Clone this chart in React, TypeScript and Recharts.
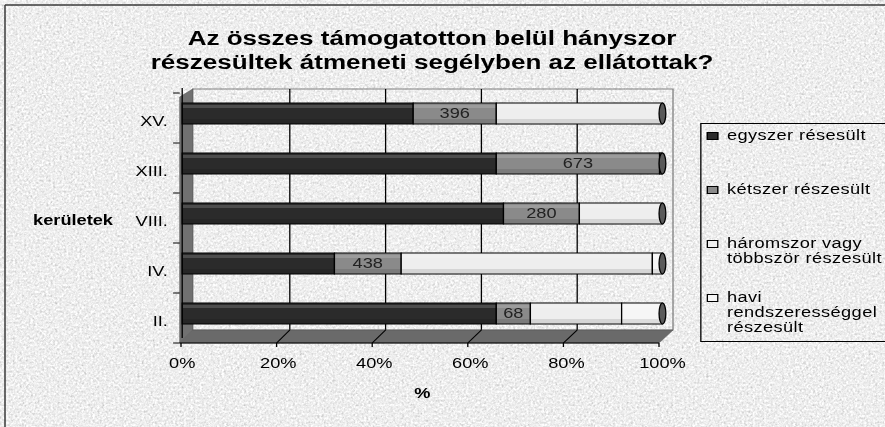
import React from 'react';
import { BarChart, Bar, XAxis, YAxis, Legend, LabelList } from 'recharts';

// ---- data (top to bottom) ----
const districts = ['XV.', 'XIII.', 'VIII.', 'IV.', 'II.'];
const egyszer = [48.1, 65.4, 66.9, 31.7, 65.4];
const ketszer = [17.3, 34.0, 15.8, 13.9, 7.1];
const haromszor = [34.6, 0.3, 17.3, 52.3, 19.0];
const havi = [0, 0.3, 0, 2.1, 8.5];
const ketszerCounts = [396, 673, 280, 438, 68];
const xTicks = [0, 20, 40, 60, 80, 100];

const seriesKeys = ['s1', 's2', 's3', 's4'];
const seriesNames = [
  'egyszer résesült',
  'kétszer részesült',
  'háromszor vagy többször részesült',
  'havi rendszerességgel részesült',
];
const seriesColors = ['#2b2b2b', '#8a8a8a', '#eeeeee', '#f6f6f6'];

const tableData = districts.map((name, i) => ({
  name,
  s1: egyszer[i],
  s2: ketszer[i],
  s3: haromszor[i],
  s4: havi[i],
  cnt: ketszerCounts[i],
}));

// ---- layout ----
const OUT_W = 885;
const H = 427;
const IN_W = 680;
const S = OUT_W / IN_W;
const FONT = '"Liberation Sans", Arial, sans-serif';

const FRONT0 = 181 / S;
const FRONT1 = 659 / S;
const BACK0 = 194 / S;
const BACK1 = 673 / S;
const frontX = (v: number) => FRONT0 + ((FRONT1 - FRONT0) * v) / 100;
const backX = (v: number) => BACK0 + ((BACK1 - BACK0) * v) / 100;

const BarShape = (props: any) => {
  const { x, y, width, height, fill, background } = props;
  if (!(width > 0)) return null;
  const end = background ? background.x + background.width : null;
  const isEnd = end != null && Math.abs(x + width - end) < 0.6;
  return (
    <g>
      <rect x={x} y={y} width={width} height={height} fill={fill} stroke="#000" strokeWidth={1} />
      <rect x={x + 0.5} y={y + 2} width={Math.max(0, width - 1)} height={3} fill="#fff" opacity={0.16} />
      <rect x={x + 0.5} y={y + height - 5} width={Math.max(0, width - 1)} height={4.5} fill="#000" opacity={0.1} />
      {isEnd && (
        <ellipse cx={x + width} cy={y + height / 2} rx={2.6} ry={height / 2} fill="#5a5a5a" stroke="#000" strokeWidth={1} />
      )}
    </g>
  );
};

const YTick = (props: any) => {
  const { x, y, payload } = props;
  return (
    <text x={x} y={y + 8} textAnchor="end" dominantBaseline="central" fontFamily={FONT} fontSize={14} fill="#000">
      {payload.value}
    </text>
  );
};

const YLabel = (props: any) => {
  const vb = props.viewBox || { x: 0, y: 88, width: 140, height: 250 };
  return (
    <text x={vb.x + 25.4} y={vb.y + vb.height / 2 + 7} dominantBaseline="central" fontFamily={FONT} fontSize={14} fontWeight="bold" fill="#000">
      kerületek
    </text>
  );
};

const XLabel = (props: any) => {
  const vb = props.viewBox || { x: 140, y: 338, width: 369, height: 30 };
  return (
    <text x={vb.x + vb.width / 2} y={vb.y + vb.height + 25} textAnchor="middle" dominantBaseline="central" fontFamily={FONT} fontSize={14} fontWeight="bold" fill="#000">
      %
    </text>
  );
};

const renderLegend = (props: any) => {
  const payload = [...(props.payload || [])].sort(
    (a: any, b: any) => seriesKeys.indexOf(a.dataKey) - seriesKeys.indexOf(b.dataKey)
  );
  return (
    <div
      style={{
        border: '1px solid #000',
        width: 170,
        height: 219,
        boxSizing: 'border-box',
        padding: '4px 0 0 4.4px',
        fontFamily: FONT,
        fontSize: 14,
        lineHeight: '15px',
        color: '#000',
      }}
    >
      {payload.map((p: any, i: number) => {
        const idx = seriesKeys.indexOf(p.dataKey);
        return (
          <div key={i} style={{ display: 'flex', alignItems: 'flex-start', height: i < 3 ? 54 : 'auto' }}>
            <span
              style={{
                width: 9,
                height: 8,
                border: '1px solid #000',
                background: seriesColors[idx >= 0 ? idx : i],
                boxSizing: 'border-box',
                marginTop: 3.5,
                marginRight: 6.4,
                flex: '0 0 auto',
              }}
            />
            <span style={{ width: 135, letterSpacing: '0.3px' }}>{p.value}</span>
          </div>
        );
      })}
    </div>
  );
};

export default function App() {
  return (
    <div style={{ position: 'absolute', left: 0, top: 0, width: OUT_W, height: H, overflow: 'hidden', background: '#d8d8d8' }}>
      <svg width={OUT_W} height={H} style={{ position: 'absolute', left: 0, top: 0 }}>
        <defs>
          <filter id="noise" x="0" y="0" width="100%" height="100%">
            <feTurbulence type="fractalNoise" baseFrequency="0.45" numOctaves="3" seed="7" />
            <feColorMatrix
              type="matrix"
              values="0.36 0.36 0.36 0 0.31  0.36 0.36 0.36 0 0.31  0.36 0.36 0.36 0 0.31  0 0 0 0 1"
            />
          </filter>
        </defs>
        <rect x={0} y={0} width={OUT_W} height={H} filter="url(#noise)" />
        <line x1={5} y1={5} x2={OUT_W} y2={5} stroke="#3a3a3a" strokeWidth={1.5} />
        <line x1={5} y1={5} x2={5} y2={H} stroke="#3a3a3a" strokeWidth={1.5} />
      </svg>

      <div
        style={{
          position: 'absolute',
          left: 0,
          top: 0,
          width: IN_W,
          height: H,
          transform: `scaleX(${S})`,
          transformOrigin: '0 0',
        }}
      >
        {/* walls */}
        <svg width={IN_W} height={H} style={{ position: 'absolute', left: 0, top: 0 }}>
          <rect x={BACK0 - 1} y={89} width={BACK1 - BACK0 + 1} height={241} fill="#ffffff" opacity={0.06} />
          <rect x={BACK0 - 1} y={89} width={BACK1 - BACK0 + 1} height={241} fill="none" stroke="#808080" strokeWidth={1} />
          {xTicks
            .filter((v) => v > 0 && v < 100)
            .map((v) => (
              <line key={v} x1={backX(v)} y1={89} x2={backX(v)} y2={330} stroke="#000" strokeWidth={1} />
            ))}
          <polygon
            points={`${FRONT0 - 1},343 ${FRONT0 - 1},97 ${BACK0 - 1},89 ${BACK0 - 1},330`}
            fill="#717171"
            stroke="#555"
            strokeWidth={0.5}
          />
        </svg>

        <div
          style={{
            position: 'absolute',
            left: 0,
            top: 26,
            width: 664,
            textAlign: 'center',
            fontFamily: FONT,
            fontWeight: 'bold',
            fontSize: 20,
            lineHeight: '24px',
            color: '#000',
          }}
        >
          Az összes támogatotton belül hányszor
          <br />
          részesültek átmeneti segélyben az ellátottak?
        </div>

        <div style={{ position: 'absolute', left: 0, top: 0 }}>
          <BarChart
            width={IN_W}
            height={H}
            data={tableData}
            layout="vertical"
            margin={{ top: 88, right: 171, bottom: 59, left: 0 }}
            barSize={21}
          >
            <XAxis
              type="number"
              domain={[0, 100]}
              ticks={xTicks}
              tickFormatter={(v: number) => `${v}%`}
              axisLine={false}
              tickLine={false}
              tickSize={0}
              tickMargin={20}
              height={30}
              tick={{ fontFamily: FONT, fontSize: 14, fill: '#000' }}
              label={<XLabel />}
            />
            <YAxis
              type="category"
              dataKey="name"
              width={140}
              axisLine={{ stroke: '#000' }}
              tickLine={false}
              tickSize={0}
              tickMargin={11}
              tick={<YTick />}
              label={<YLabel />}
            />
            {seriesKeys.map((k, i) => (
              <Bar
                key={k}
                dataKey={k}
                name={seriesNames[i]}
                stackId="a"
                fill={seriesColors[i]}
                isAnimationActive={false}
                shape={<BarShape />}
              >
                {k === 's2' && (
                  <LabelList dataKey="cnt" position="center" fill="#222" fontSize={14} fontFamily={FONT} />
                )}
              </Bar>
            ))}
            <Legend
              layout="vertical"
              align="center"
              verticalAlign="middle"
              width={170}
              height={219}
              wrapperStyle={{ left: 700 / S, top: 123, width: 170, height: 219 }}
              content={renderLegend}
            />
          </BarChart>
        </div>

        {/* floor overlay */}
        <svg width={IN_W} height={H} style={{ position: 'absolute', left: 0, top: 0, pointerEvents: 'none' }}>
          <polygon
            points={`${FRONT0 - 1},343 ${BACK0 - 1},330 ${BACK1},330 ${FRONT1},343`}
            fill="#6a6a6a"
            stroke="#555"
            strokeWidth={0.5}
          />
          {xTicks.map((v) => (
            <g key={v}>
              {v > 0 && v < 100 && <line x1={backX(v)} y1={330} x2={frontX(v)} y2={343} stroke="#000" strokeWidth={1} />}
              <line x1={frontX(v)} y1={343} x2={frontX(v)} y2={347} stroke="#000" strokeWidth={1} />
            </g>
          ))}
          <line x1={FRONT0 - 1} y1={343} x2={FRONT1} y2={343} stroke="#000" strokeWidth={1} />
          {[0, 1, 2, 3, 4, 5].map((i) => (
            <line key={i} x1={133} y1={93 + 50 * i} x2={FRONT0 - 1} y2={93 + 50 * i} stroke="#000" strokeWidth={1} />
          ))}
        </svg>
      </div>
    </div>
  );
}
